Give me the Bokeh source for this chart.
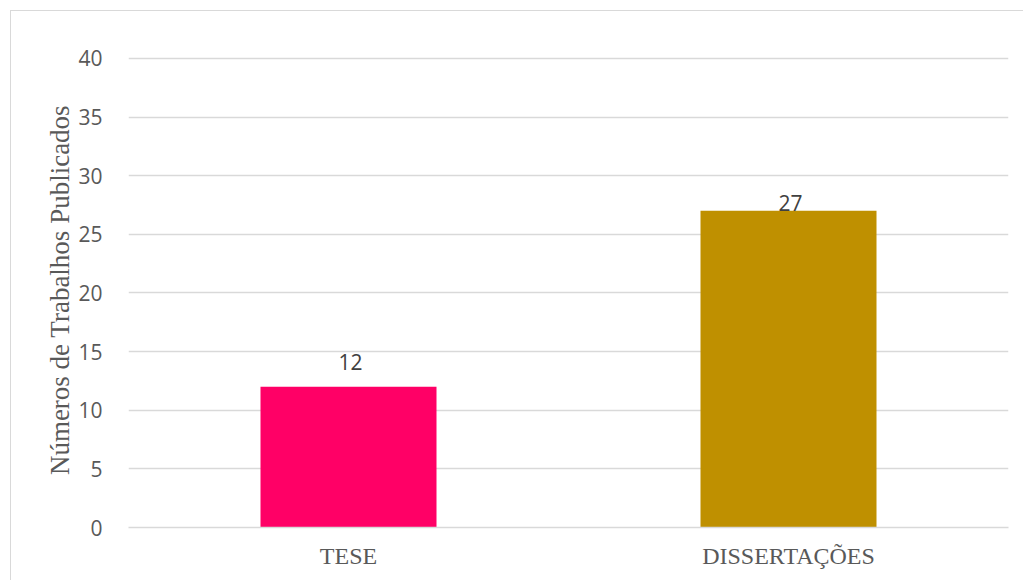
from bokeh.plotting import figure
from bokeh.models import ColumnDataSource, FixedTicker, Range1d, FactorRange
from bokeh.core.properties import value
from bokeh.embed import file_html
from bokeh.resources import INLINE

# ---- data ----
categories = ["TESE", "DISSERTAÇÕES"]
counts = [12, 27]
bar_colors = ["#FF0066", "#BF9000"]
y_ticks = [0, 5, 10, 15, 20, 25, 30, 35, 40]
y_title = "Números de Trabalhos Publicados"

source = ColumnDataSource(dict(cat=categories, val=counts, color=bar_colors))

p = figure(width=1023, height=580, x_range=FactorRange(*categories, range_padding=0),
           y_range=Range1d(0, 40.5), output_backend="svg", toolbar_location=None,
           min_border_left=128, min_border_right=15, min_border_top=52, min_border_bottom=53)

p.outline_line_color = None
p.background_fill_color = "white"
p.border_fill_color = None
p.styles = {
    "background": ("linear-gradient(#D9D9D9,#D9D9D9) 10px 10px / 1013px 1px no-repeat, "
                   "linear-gradient(#D9D9D9,#D9D9D9) 10px 10px / 1px 570px no-repeat, white")
}

p.vbar(x="cat", top="val", width=0.4, color="color", source=source, line_color=None)

# data labels
label_offsets = [-25, -8]
for i in range(len(categories)):
    p.text(x=[categories[i]], y=[counts[i]], text=[str(counts[i])],
           text_align="center", text_baseline="alphabetic", y_offset=label_offsets[i],
           x_offset=2, text_font=value("Open Sans"), text_font_size="21px",
           text_color="#404040")

# grid
p.xgrid.grid_line_color = None
p.ygrid.grid_line_color = "#D9D9D9"
p.ygrid.grid_line_width = 1.5
p.yaxis.ticker = FixedTicker(ticks=y_ticks)

# y axis
p.yaxis.axis_line_color = None
p.yaxis.major_tick_line_color = None
p.yaxis.minor_tick_line_color = None
p.yaxis.major_label_text_font = "Open Sans"
p.yaxis.major_label_text_font_size = "21px"
p.yaxis.major_label_text_color = "#595959"
p.yaxis.major_label_standoff = 20
p.yaxis.axis_label = y_title
p.yaxis.axis_label_text_font = "Liberation Serif"
p.yaxis.axis_label_text_font_style = "normal"
p.yaxis.axis_label_text_font_size = "27px"
p.yaxis.axis_label_text_color = "#595959"
p.yaxis.axis_label_standoff = 0

# x axis
p.xaxis.axis_line_color = "#D9D9D9"
p.xaxis.axis_line_width = 1.5
p.xaxis.major_tick_line_color = None
p.xaxis.minor_tick_line_color = None
p.xaxis.major_label_text_font = "Liberation Serif"
p.xaxis.major_label_text_font_size = "24px"
p.xaxis.major_label_text_color = "#595959"
p.xaxis.major_label_standoff = 9

open("out.html", "w").write(file_html(p, INLINE))
